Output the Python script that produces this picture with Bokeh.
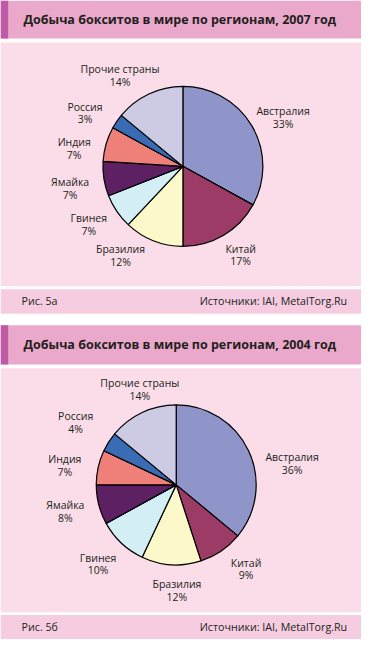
import math
from bokeh.plotting import figure
from bokeh.models import Range1d, ColumnDataSource
from bokeh.core.properties import value
from bokeh.embed import file_html
from bokeh.resources import INLINE

# ---------------- data ----------------
regions = ["Австралия", "Китай", "Бразилия", "Гвинея", "Ямайка", "Индия", "Россия", "Прочие страны"]
share_2007 = [33, 17, 12, 7, 7, 7, 3, 14]
share_2004 = [36, 9, 12, 10, 8, 7, 4, 14]
slice_colors = ["#8f95c9", "#9b3b66", "#fbf8c9", "#d3eef4", "#5d2063", "#ef8079", "#3a6cb5", "#cdcbe4"]

titles = ["Добыча бокситов в мире по регионам, 2007 год",
          "Добыча бокситов в мире по регионам, 2004 год"]
fig_labels = ["Рис. 5а", "Рис. 5б"]
source_note = "Источники: IAI, MetalTorg.Ru"

# label placement tweaks (layout only): angle nudge in degrees (clockwise), distance from centre
label_nudge_2007 = [5, -3, 14, 3, -2, -7, -6, -10]
label_dist_2007 = [116, 109, 112, 115, 120, 115, 116, 114]
label_nudge_2004 = [15, -6, -4, 2, 1, -3, -1, 4]
label_dist_2004 = [123, 113, 108, 115, 119, 118, 123, 105]

# ---------------- layout ----------------
W, H = 377, 655
PW, PH = 361, 639
FONT = "Open Sans"
TXT = "#231f20"

p = figure(width=PW, height=PH, x_range=Range1d(0, W), y_range=Range1d(0, H),
           x_axis_type=None, y_axis_type=None, output_backend="svg",
           toolbar_location=None, min_border=0)
p.grid.visible = False
p.outline_line_color = None
p.background_fill_color = "white"
p.border_fill_color = "white"


def Y(v):
    return H - v


def band(top, bottom, color, left=0, right=W):
    p.quad(left=left, right=right, top=Y(top), bottom=Y(bottom),
           fill_color=color, line_color=None)


HEADER = "#eaa8cb"
ACCENT = "#bf5aa6"
PANEL = "#fadde8"
FOOT = "#f6cde0"

panels = [
    dict(h=(0, 39), c=(43, 293), f=(296, 321), center=(190.5, 170), data=share_2007,
         nudge=label_nudge_2007, dist=label_dist_2007),
    dict(h=(333, 373), c=(377, 627), f=(630, 655), center=(183.5, 496.5), data=share_2004,
         nudge=label_nudge_2004, dist=label_dist_2004),
]

R = 83.5

for i, pn in enumerate(panels):
    band(*pn["h"], HEADER)
    band(*pn["h"], ACCENT, 0, 8)
    band(*pn["c"], PANEL)
    band(*pn["f"], FOOT)

    hy = (pn["h"][0] + pn["h"][1]) / 2
    p.text(x=[24], y=[Y(hy)], text=[titles[i]], text_font=value(FONT),
           text_font_style="bold", text_font_size=value("12.5px"),
           text_color=TXT, text_baseline="middle", text_align="left")

    fy = (pn["f"][0] + pn["f"][1]) / 2
    p.text(x=[22], y=[Y(fy)], text=[fig_labels[i]], text_font=value(FONT),
           text_font_size=value("10.7px"), text_color=TXT,
           text_baseline="middle", text_align="left")
    p.text(x=[362], y=[Y(fy)], text=[source_note], text_font=value(FONT),
           text_font_size=value("10.7px"), text_color=TXT,
           text_baseline="middle", text_align="right")

    vals = pn["data"]
    total = float(sum(vals))
    cum = [0.0]
    for v in vals:
        cum.append(cum[-1] + v / total)
    starts = [math.pi / 2 - 2 * math.pi * c for c in cum[:-1]]
    ends = [math.pi / 2 - 2 * math.pi * c for c in cum[1:]]
    cx, cy = pn["center"]
    src = ColumnDataSource(dict(start=starts, end=ends, color=slice_colors,
                                name=regions, val=vals))
    p.wedge(x=cx, y=Y(cy), radius=R, start_angle="start", end_angle="end",
            direction="clock", fill_color="color", line_color="black",
            line_width=1.2, source=src)

    mids = [(a + b) / 2 - math.radians(n) for a, b, n in zip(starts, ends, pn["nudge"])]
    lx = [cx + d * math.cos(m) for m, d in zip(mids, pn["dist"])]
    ly = [Y(cy) + d * math.sin(m) for m, d in zip(mids, pn["dist"])]
    p.text(x=lx, y=[y + 6.5 for y in ly], text=regions, text_font=value(FONT),
           text_font_size=value("10.5px"), text_color=TXT,
           text_baseline="middle", text_align="center")
    p.text(x=lx, y=[y - 6.5 for y in ly], text=[f"{v}%" for v in vals],
           text_font=value(FONT), text_font_size=value("10.5px"), text_color=TXT,
           text_baseline="middle", text_align="center")

open("out.html", "w").write(file_html(p, INLINE))
